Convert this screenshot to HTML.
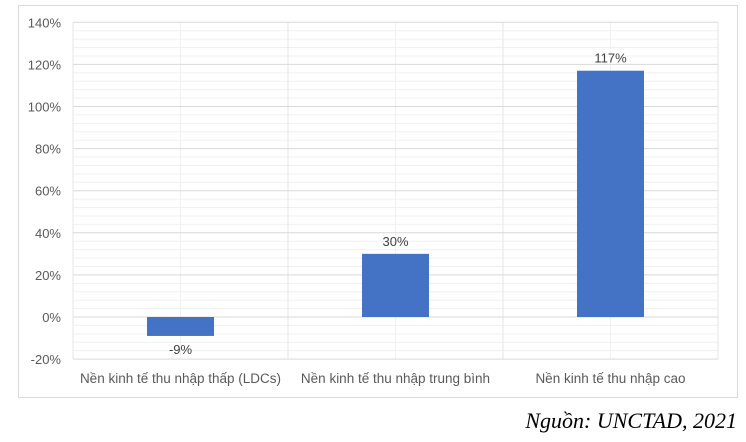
<!DOCTYPE html>
<html><head><meta charset="utf-8"><style>
body{margin:0;background:#fff;width:746px;height:437px;overflow:hidden;font-family:"Liberation Sans",sans-serif}
</style></head><body>
<svg width="746" height="437">
<rect x="18.5" y="5.5" width="719" height="392" fill="#fff" stroke="#d9d9d9"/>
<g id="grid"></g><g id="bars"></g><g id="labels"></g>
<text x="737" y="428" text-anchor="end" font-family="Liberation Serif, serif" font-style="italic" font-size="22" fill="#000">Nguồn: UNCTAD, 2021</text>
</svg>
<script>
const categories=["Nền kinh tế thu nhập thấp (LDCs)","Nền kinh tế thu nhập trung bình","Nền kinh tế thu nhập cao"];
const values=[-9,30,117];
const yTicks=[-20,0,20,40,60,80,100,120,140];
const NS="http://www.w3.org/2000/svg";
const L=73,R=718,Y0=317,PX=42.1/20;
const y=v=>Y0-v*PX;
const cw=(R-L)/categories.length;
const g=document.getElementById('grid'),b=document.getElementById('bars'),lb=document.getElementById('labels');
function mk(tag,attrs,parent){const e=document.createElementNS(NS,tag);for(const k in attrs)e.setAttribute(k,attrs[k]);parent.appendChild(e);return e;}
for(let v=-20;v<=140;v+=4){if(v%20===0)continue;const l=mk('line',{x1:L,x2:R,y1:y(v),y2:y(v),stroke:'#f0f0f0'},g);

}
for(let i=0;i<=categories.length*2;i++){const x=L+i*cw/2;const l=mk('line',{x1:x,x2:x,y1:y(140),y2:y(-20),stroke:i%2?'#f0f0f0':'#e6e6e6'},g);

}
yTicks.forEach(v=>{const l=mk('line',{x1:L,x2:R,y1:y(v),y2:y(v),stroke:'#d9d9d9'},g);


const t=mk('text',{x:61,y:y(v)+5,'text-anchor':'end','font-size':13,fill:'#595959'},lb);t.textContent=v+'%';

});
values.forEach((v,i)=>{const cx=L+cw*(i+0.5);const top=y(Math.max(v,0)),bot=y(Math.min(v,0));
const r=mk('rect',{x:cx-33.5,y:top,width:67,height:bot-top,fill:'#4472c4'},b);


const t=mk('text',{x:cx,y:v>=0?top-8:bot+18,'text-anchor':'middle','font-size':13,fill:'#404040'},lb);t.textContent=v+'%';


const c=mk('text',{x:cx,y:383,'text-anchor':'middle','font-size':13.5,fill:'#595959'},lb);c.textContent=categories[i];

});
</script>
</body></html>
